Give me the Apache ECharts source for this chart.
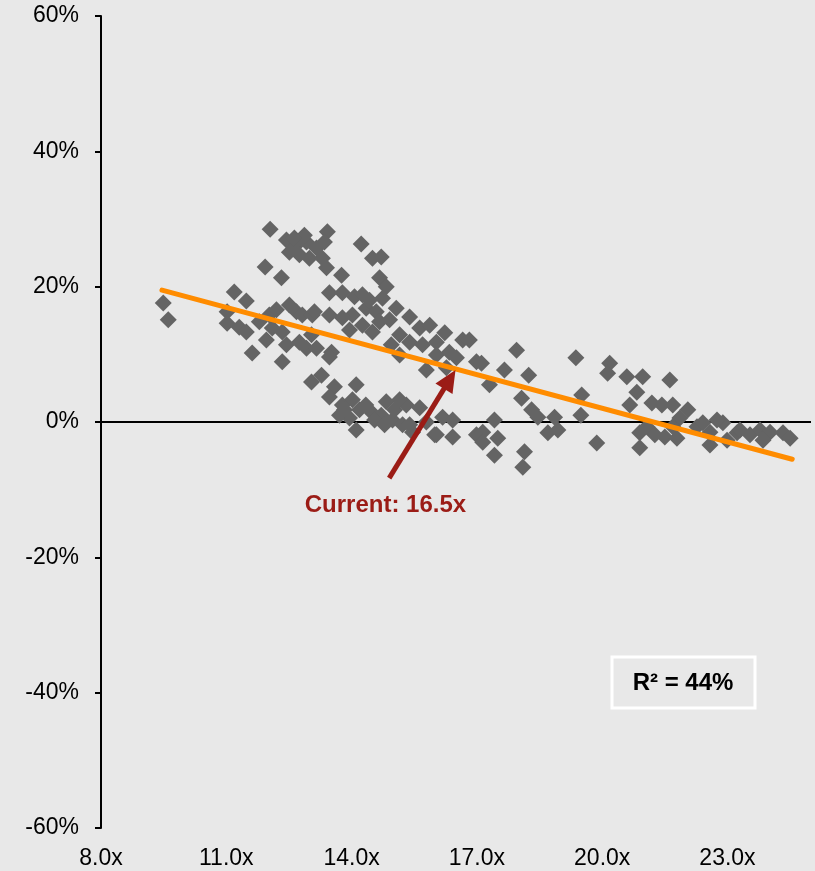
<!DOCTYPE html>
<html>
<head>
<meta charset="utf-8">
<script src="https://cdn.jsdelivr.net/npm/echarts@6/dist/echarts.min.js"></script>
<style>
html,body{margin:0;padding:0;background:#e8e8e8;}
#chart{width:815px;height:871px;}
</style>
</head>
<body>
<div id="chart"></div>
<script>
// Forward P/E multiple (x) and subsequent return (%) pairs
const peMultiple = [
  9.49,9.61,12.05,12.44,12.68,12.92,12.51,12.99,11.93,12.32,11.19,11.48,11.02,11.02,11.31,11.48,11.79,12.03,12.20,12.51,
  12.68,12.82,13.06,12.10,12.34,11.96,12.44,12.75,12.92,11.62,12.34,13.42,13.35,13.16,13.30,13.40,14.23,14.50,14.71,14.67,
  14.83,14.74,13.76,13.47,13.78,14.07,14.26,15.07,15.39,15.63,14.35,14.59,14.02,13.78,13.47,13.11,14.26,14.67,14.91,13.95,
  14.50,13.04,13.16,13.52,15.15,15.39,15.70,16.03,16.23,16.66,16.34,16.51,16.99,13.47,13.28,13.04,13.59,14.11,13.47,13.78,
  14.02,14.19,13.71,13.95,14.11,14.50,14.83,14.71,14.98,15.31,15.22,15.46,15.63,15.79,15.99,16.18,16.42,16.42,15.79,16.27,
  16.99,16.82,17.11,17.30,17.66,17.95,18.24,18.07,18.31,18.46,17.42,17.14,17.14,17.50,17.42,18.14,18.10,18.86,18.70,18.94,
  19.51,19.49,19.37,19.87,20.18,20.13,20.59,20.97,20.83,20.66,21.62,21.19,21.43,21.69,22.05,21.86,21.69,20.90,21.07,21.26,
  21.50,21.79,20.90,22.27,22.58,22.89,22.58,22.99,23.23,23.30,23.54,23.78,24.02,23.85,24.33,24.50,22.41,22.75,
  12.75,12.87,12.63,14.34,15.03,14.55,13.83,14.79,15.39,15.15,16.03,14.43,15.15,14.95,15.87,16.03
];
const fwdReturn = [
  17.6,15.1,28.5,26.9,26.2,26.6,25.1,24.2,22.9,21.3,19.2,17.9,16.3,14.6,14.0,13.3,14.8,15.8,16.6,17.3,
  16.3,15.8,15.8,13.9,13.3,12.1,11.4,11.8,10.9,10.2,8.9,28.1,26.6,25.7,24.2,22.8,26.3,24.2,24.4,21.3,
  20.0,18.3,21.7,19.1,19.1,18.5,18.8,16.8,15.5,13.9,16.8,16.3,15.8,15.4,15.8,16.3,14.3,14.8,15.1,13.6,
  13.3,12.9,10.9,10.3,9.9,11.8,11.4,11.8,13.2,12.1,10.3,9.5,8.9,9.6,6.9,5.9,5.2,5.5,3.7,2.5,
  3.3,1.8,1.0,0.6,-1.2,1.3,3.0,1.0,0.3,2.5,-0.4,-1.5,2.1,0.0,-1.9,0.7,0.3,-2.2,7.7,8.0,
  -1.9,12.1,8.7,5.5,7.7,10.6,6.9,3.5,1.8,0.7,0.3,-1.5,-3.0,-2.4,-4.9,-4.4,-6.7,0.7,-1.6,-1.2,
  4.0,1.0,9.5,-3.1,8.7,7.2,6.7,6.7,4.4,2.5,6.2,2.8,2.5,2.5,1.8,0.6,-0.7,-1.6,-0.7,-1.9,
  -2.2,-2.4,-3.8,-0.7,-1.5,-0.1,-3.4,-2.7,-1.6,-1.2,-1.9,-1.2,-1.5,-2.7,-1.6,-2.4,-0.1,0.3,
  24.7,27.6,27.2,2.5,1.8,0.3,1.8,-0.4,-0.4,3.3,-1.9,18.0,12.9,11.4,14.3,9.9
];
// Regression line end points
const trendX = [9.46, 24.55];
const trendY = [19.5, -5.5];
// Annotation
const currentLabel = 'Current: 16.5x';
const arrowFrom = [14.9, -8.3];
const arrowTo = [16.35, 6.3];
const labelAt = [14.81, -12.3];
const r2Text = 'R\u00B2 = 44%';
// Axes
const xMin = 8, xMax = 25, xStep = 3;
const yMin = -60, yMax = 60, yStep = 20;

const scatterData = peMultiple.map((x, i) => [x, fwdReturn[i]]);
const trendData = trendX.map((x, i) => [x, trendY[i]]);

const FONT = '"Liberation Sans", Arial, sans-serif';
const chart = echarts.init(document.getElementById('chart'), null, {renderer: 'canvas'});
chart.setOption({
  animation: false,
  backgroundColor: '#e8e8e8',
  grid: {left: 101, right: 4, top: 16, bottom: 43, containLabel: false},
  xAxis: {
    type: 'value', min: xMin, max: xMax, interval: xStep,
    axisLine: {show: false}, axisTick: {show: false}, splitLine: {show: false},
    axisLabel: {
      formatter: v => v.toFixed(1) + 'x', fontSize: 23, color: '#000', fontFamily: FONT,
      margin: 19, showMaxLabel: false
    }
  },
  yAxis: {
    type: 'value', min: yMin, max: yMax, interval: yStep,
    axisLine: {show: true, lineStyle: {color: '#000', width: 2}},
    axisTick: {show: true, inside: false, length: 6, lineStyle: {color: '#000', width: 2}},
    splitLine: {show: false},
    axisLabel: {formatter: v => v + '%', fontSize: 23, color: '#000', fontFamily: FONT, margin: 22}
  },
  series: [
    {
      type: 'line', data: [[xMin, 0], [xMax, 0]], symbol: 'none', silent: true, z: 1,
      lineStyle: {color: '#000', width: 2}
    },
    {
      type: 'scatter', data: scatterData, symbol: 'diamond', symbolSize: 17, z: 2,
      itemStyle: {color: '#646464', opacity: 1}
    },
    {
      type: 'line', data: trendData, symbol: 'none', z: 3, silent: true,
      lineStyle: {color: '#ff8c00', width: 5, cap: 'round'},
      markLine: {
        silent: true, symbol: ['none', 'triangle'], symbolSize: [20, 22],
        label: {show: false},
        lineStyle: {color: '#9b1c16', width: 5, type: 'solid'},
        data: [[{coord: arrowFrom}, {coord: arrowTo}]]
      }
    }
  ]
});
const lp = chart.convertToPixel({gridIndex: 0}, labelAt);
chart.setOption({
  graphic: [
    {
      id: 'r2box', type: 'rect', shape: {x: 612, y: 657, width: 143, height: 51},
      style: {fill: 'rgba(0,0,0,0)', stroke: '#ffffff', lineWidth: 3}, z: 10
    },
    {
      id: 'r2text', type: 'text', x: 683, y: 683, z: 11,
      style: {text: r2Text, align: 'center', verticalAlign: 'middle',
        font: 'bold 24px "Liberation Sans", Arial, sans-serif', fill: '#000'}
    },
    {
      id: 'curtext', type: 'text', x: lp[0], y: lp[1], z: 12,
      style: {text: currentLabel, align: 'center', verticalAlign: 'middle',
        font: 'bold 24px "Liberation Sans", Arial, sans-serif', fill: '#9b1c16'}
    }
  ]
});
</script>
</body>
</html>
